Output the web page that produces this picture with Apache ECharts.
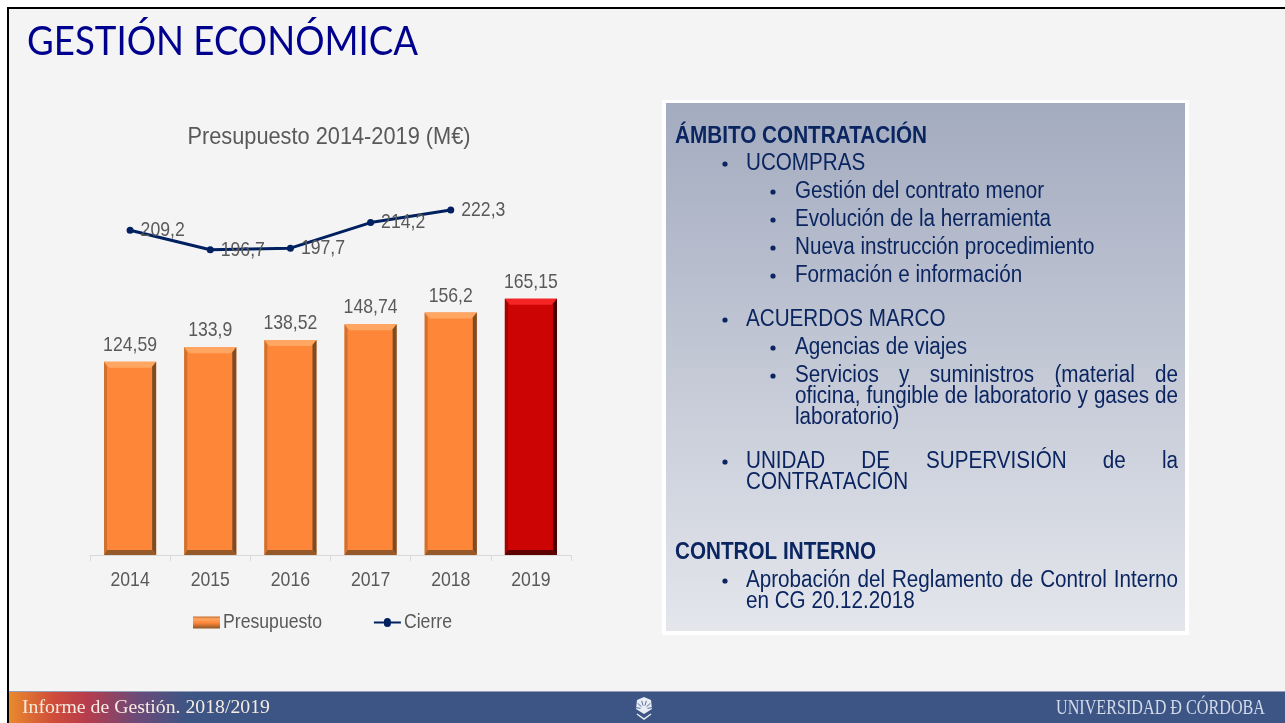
<!DOCTYPE html>
<html><head><meta charset="utf-8">
<style>html,body{margin:0;padding:0;background:#fff}#c{width:1285px;height:723px}</style>
<script src="https://cdn.jsdelivr.net/npm/echarts@6/dist/echarts.min.js"></script>
</head><body><div id="c"></div>
<script>
const years = ['2014','2015','2016','2017','2018','2019'];
const presupuesto = [124.59,133.9,138.52,148.74,156.2,165.15];
const cierre = [209.2,196.7,197.7,214.2,222.3,null];
const budgetLabels = ['124,59','133,9','138,52','148,74','156,2','165,15'];
const closeLabels = ['209,2','196,7','197,7','214,2','222,3',''];
const slideTitle = 'GESTIÓN ECONÓMICA';
const chartTitle = 'Presupuesto 2014-2019 (M€)';
const footerLeft = 'Informe de Gestión. 2018/2019';
const footerRight = 'UNIVERSIDAD Ð CÓRDOBA';

const SANS = '"Liberation Sans",Arial,sans-serif';
const INK = '#0b2560';
const GREY = '#595959';
const ctx = document.createElement('canvas').getContext('2d');
function tw(s,font){ctx.font=font;return ctx.measureText(s).width;}
const F22 = '23.5px '+SANS, B22='bold 23.5px '+SANS;
const sx = 249/tw('Gestión del contrato menor',F22);

function line(text,x,cy,opt){
  opt=opt||{};
  const font=opt.font||F22, s=opt.sx||sx;
  return {type:'text',x:x,y:cy+1,scaleX:s,z:5,silent:true,
    style:{text:text,font:font,fill:opt.fill||INK,verticalAlign:'middle'}};
}
function justified(text,x,right,cy){
  const words=text.split(' ');
  const ws=words.map(w=>tw(w,F22)*sx);
  const gap=(right-x-ws.reduce((a,b)=>a+b,0))/(words.length-1);
  let cur=x; const out=[];
  words.forEach((w,i)=>{out.push(line(w,cur,cy));cur+=ws[i]+gap;});
  return out;
}
function bullet(x,cy){return {type:'circle',z:5,silent:true,shape:{cx:x,cy:cy+1,r:2.6},style:{fill:INK}};}
const R=1178,L1=746,L2=795,B1=725,B2=773;

const panel=[
 {type:'rect',z:1,silent:true,shape:{x:662,y:100,width:527,height:535},style:{fill:'#fff'}},
 {type:'rect',z:2,silent:true,shape:{x:666,y:103,width:519,height:528},style:{fill:new echarts.graphic.LinearGradient(0,0,0,1,[{offset:0,color:'#a3abbf'},{offset:1,color:'#e4e6ec'}])}},
 line('ÁMBITO CONTRATACIÓN',675,135.5,{font:B22,sx:252/tw('ÁMBITO CONTRATACIÓN',B22)}),
 bullet(B1,163),line('UCOMPRAS',L1,163),
 bullet(B2,191),line('Gestión del contrato menor',L2,191),
 bullet(B2,219),line('Evolución de la herramienta',L2,219),
 bullet(B2,247),line('Nueva instrucción procedimiento',L2,247),
 bullet(B2,275),line('Formación e información',L2,275),
 bullet(B1,319),line('ACUERDOS MARCO',L1,319),
 bullet(B2,347),line('Agencias de viajes',L2,347),
 bullet(B2,375),...justified('Servicios y suministros (material de',L2,R,375),
 ...justified('oficina, fungible de laboratorio y gases de',L2,R,396),
 line('laboratorio)',L2,417),
 bullet(B1,461),...justified('UNIDAD DE SUPERVISIÓN de la',L1,R,461),
 line('CONTRATACIÓN',L1,482),
 line('CONTROL INTERNO',675,551.5,{font:B22,sx:201/tw('CONTROL INTERNO',B22)}),
 bullet(B1,580),...justified('Aprobación del Reglamento de Control Interno',L1,R,580),
 line('en CG 20.12.2018',L1,601)
];
const TF='41px Lato,"Open Sans",sans-serif';
const FL='18px "Liberation Serif",serif', FR='20px "Liberation Serif",serif';
const spokes=[];
for(let a=-170;a<=-10;a+=32){const r=a*Math.PI/180;spokes.push({type:'line',z:7,silent:true,shape:{x1:644+3.5*Math.cos(r),y1:709+3.5*Math.sin(r),x2:644+8.5*Math.cos(r),y2:709+8.5*Math.sin(r)},style:{stroke:'#5a70a0',lineWidth:1}});}
const logo=[
 {type:'polygon',z:6,silent:true,shape:{points:[[644,697],[651,700],[652,709],[644,714],[636,709],[637,700]]},style:{fill:'#e9edf5'}},
 ...spokes,
 {type:'polyline',z:6,silent:true,shape:{points:[[637,714],[644,719],[651,714]]},style:{stroke:'#e9edf5',lineWidth:1.5,fill:null}}
];
const frame=[
 {type:'rect',z:-5,silent:true,shape:{x:7,y:7,width:1278,height:716},style:{fill:'#000'}},
 {type:'rect',z:-4,silent:true,shape:{x:9,y:9,width:1276,height:714},style:{fill:'#f4f4f4'}},
 {type:'rect',z:1,silent:true,shape:{x:9,y:691,width:1276,height:32},style:{fill:new echarts.graphic.LinearGradient(0,0,1,0,[{offset:0,color:'#e98a2e'},{offset:0.035,color:'#cf4c3a'},{offset:0.06,color:'#b83c4c'},{offset:0.1,color:'#6c4a78'},{offset:0.14,color:'#3d5585'},{offset:1,color:'#3d5585'}])}},
 {type:'rect',z:2,silent:true,shape:{x:9,y:691,width:1276,height:1},style:{fill:'#93a0b6'}},
 {type:'text',x:27,y:42,z:5,silent:true,scaleX:391/tw(slideTitle,TF),style:{text:slideTitle,font:TF,fill:'#00008e',verticalAlign:'middle'}},
 {type:'text',x:22,y:708,z:5,silent:true,scaleX:248/tw(footerLeft,FL),style:{text:footerLeft,font:FL,fill:'#f6ebe0',verticalAlign:'middle'}},
 {type:'text',x:1056,y:709,z:5,silent:true,scaleX:209/tw(footerRight,FR),style:{text:footerRight,font:FR,fill:'#d3dbea',verticalAlign:'middle'}}
];
const bevelColors=[{t:'#ffa662',l:'#cf7230',r:'#7d4c23',b:'#95592a'},{t:'#f52525',l:'#a00303',r:'#4a0000',b:'#5e0000'}];
function bevel(params,api){
  const i=api.value(0), v=api.value(1);
  const top=api.coord([i,v]), base=api.coord([i,0]);
  const w=api.size([1,0])[0]*0.65, x0=top[0]-w/2, x1=top[0]+w/2, y0=top[1], y1=base[1], d=5;
  const c=bevelColors[i===presupuesto.length-1?1:0];
  const poly=(pts,fill)=>({type:'polygon',shape:{points:pts},style:{fill:fill}});
  return {type:'group',silent:true,children:[
    poly([[x0,y0],[x1,y0],[x1-d,y0+d+1],[x0+d,y0+d+1]],c.t),
    poly([[x0,y0],[x0+d-2,y0+d],[x0+d-2,y1-d],[x0,y1]],c.l),
    poly([[x1,y0],[x1-d+1,y0+d],[x1-d+1,y1-d],[x1,y1]],c.r),
    poly([[x0,y1],[x0+d-2,y1-d],[x1-d+1,y1-d],[x1,y1]],c.b)
  ]};
}
const chart=echarts.init(document.getElementById('c'),null,{renderer:'canvas'});
const labelFont={fontFamily:SANS,fontSize:21,color:GREY};
const lineIcon='path://M0,0L0.01,0L0,0.01Z M27,12L26.99,12L27,11.99Z M0,4.9L10,4.9A3.5,3.5 0 0 1 17,4.9L27,4.9L27,7.1L17,7.1A3.5,3.5 0 0 1 10,7.1L0,7.1Z';
chart.setOption({
  animation:false,
  backgroundColor:'#fff',
  title:{text:chartTitle,left:324,top:120,textAlign:'center',textStyle:{fontFamily:SANS,fontSize:24,fontWeight:'normal',color:GREY}},
  legend:{data:[
      {name:'Presupuesto',icon:'rect',itemStyle:{color:new echarts.graphic.LinearGradient(0,0,0,1,[{offset:0,color:'#c56c2c'},{offset:0.2,color:'#ffa662'},{offset:0.55,color:'#fd8638'},{offset:1,color:'#8c5526'}])}},
      {name:'Cierre',icon:lineIcon,itemStyle:{color:'#002060'}}],
    left:188,top:607,itemWidth:27,itemHeight:12,itemGap:31,textStyle:{fontFamily:SANS,fontSize:21,color:GREY}},
  grid:{left:90,width:481,top:167,height:388},
  xAxis:{type:'category',data:years,axisLine:{lineStyle:{color:'#d9d9d9'}},axisTick:{show:true,length:6,lineStyle:{color:'#d9d9d9'}},
    axisLabel:{...labelFont,margin:15}},
  yAxis:{type:'value',min:0,max:250,show:false,splitLine:{show:false}},
  graphic:{elements:[...frame,...panel,...logo]},
  series:[
    {name:'Presupuesto',type:'bar',barWidth:'65%',z:2,
     data:presupuesto.map((v,i)=>({value:v,itemStyle:{color:i===5?'#cc0404':'#fd8638'}})),
     label:{show:true,position:'top',distance:6,...labelFont,formatter:p=>budgetLabels[p.dataIndex]}},
    {name:'bevel',type:'custom',z:3,silent:true,renderItem:bevel,data:presupuesto.map((v,i)=>[i,v]),encode:{x:0,y:1},label:{show:false}},
    {name:'Cierre',type:'line',z:4,data:cierre,symbol:'circle',symbolSize:7,
     lineStyle:{color:'#002060',width:3},itemStyle:{color:'#002060'},
     label:{show:true,position:'right',distance:7,...labelFont,formatter:p=>closeLabels[p.dataIndex]}}
  ]
});
// The source uses a condensed rendering of the chart's sans text: narrow the library's own text elements.
const zr=chart.getZr();
new Set(zr.storage.getDisplayList(true,true).map(e=>e.parent).filter(p=>p&&p.type==='text'&&p.scaleX===1)).forEach(t=>{
  const sxv=(t.style&&t.style.text===chartTitle)?0.907:0.84;
  const ox=(t.style&&t.style.x)||0;
  t.scaleX=sxv;
  t.originX=ox;
  if(ox>0) t.x=(t.x||0)-2;
  t.markRedraw();
});
zr.refreshImmediately();
</script></body></html>
